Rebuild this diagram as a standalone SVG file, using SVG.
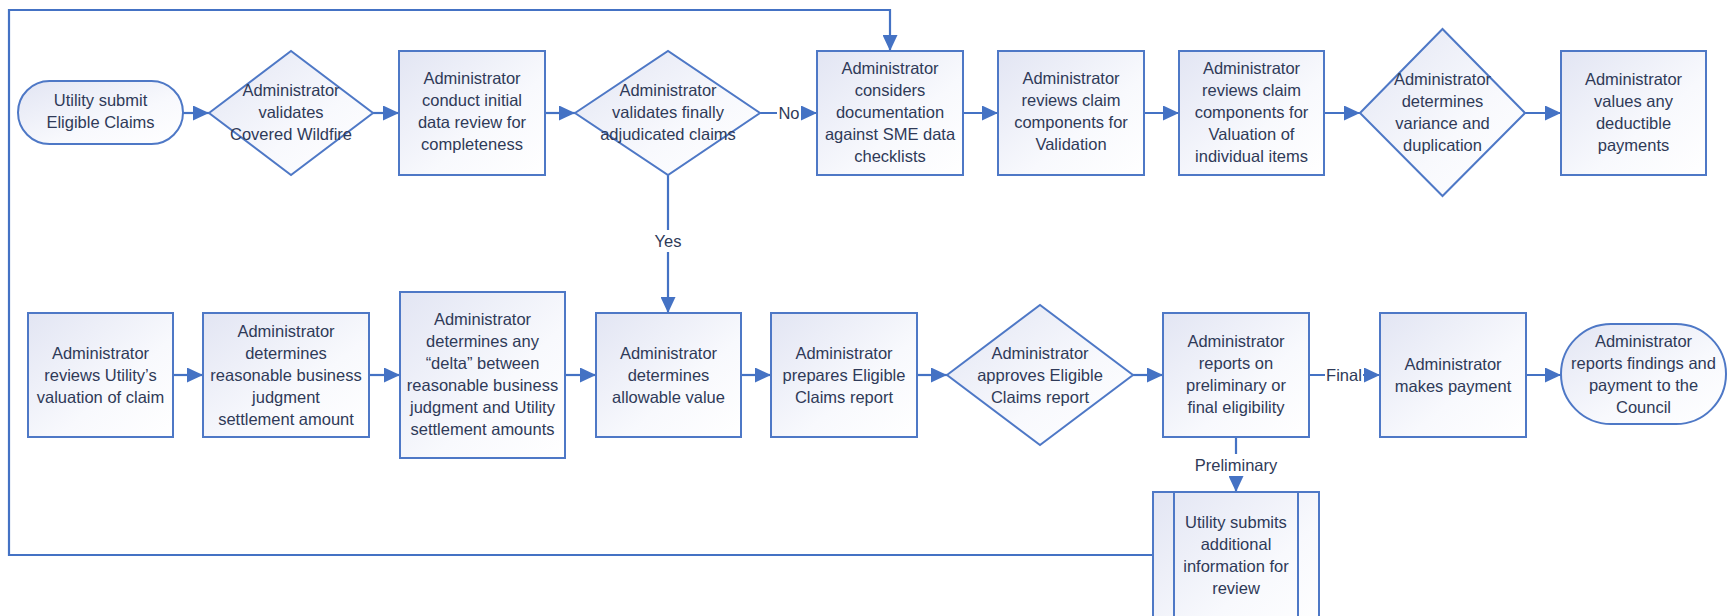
<svg xmlns="http://www.w3.org/2000/svg" width="1732" height="616" viewBox="0 0 1732 616">
<defs>
<linearGradient id="g" x1="0" y1="0" x2="1" y2="1">
<stop offset="0" stop-color="#e2e5f3"/>
<stop offset="0.6" stop-color="#f8f9fd"/>
<stop offset="1" stop-color="#ffffff"/>
</linearGradient>
<marker id="ah" markerUnits="userSpaceOnUse" markerWidth="17" markerHeight="15" refX="16" refY="7.5" orient="auto">
<path d="M0,0 L16,7.5 L0,15 z" fill="#4472c4"/>
</marker>
<style>
.n{fill:url(#g);stroke:#4e78c6;stroke-width:2}
.t{font-family:"Liberation Sans",Arial,sans-serif;font-size:16.5px;fill:#2f3a58;text-anchor:middle}
.c{fill:none;stroke:#4472c4;stroke-width:2.2}
.a{marker-end:url(#ah)}
.lb{fill:#ffffff}
</style>
</defs>
<rect width="1732" height="616" fill="#ffffff"/>

<g id="connectors">
<line class="c a" x1="183" y1="113" x2="209" y2="113"/>
<line class="c a" x1="373" y1="113" x2="399" y2="113"/>
<line class="c a" x1="545" y1="113" x2="575" y2="113"/>
<line class="c a" x1="760" y1="113" x2="817" y2="113"/>
<line class="c a" x1="963" y1="113" x2="998" y2="113"/>
<line class="c a" x1="1144" y1="113" x2="1179" y2="113"/>
<line class="c a" x1="1324" y1="113" x2="1360" y2="113"/>
<line class="c a" x1="1525" y1="113" x2="1561" y2="113"/>
<line class="c a" x1="668" y1="175" x2="668" y2="313"/>
<line class="c a" x1="173" y1="375" x2="203" y2="375"/>
<line class="c a" x1="369" y1="375" x2="400" y2="375"/>
<line class="c a" x1="565" y1="375" x2="596" y2="375"/>
<line class="c a" x1="741" y1="375" x2="771" y2="375"/>
<line class="c a" x1="917" y1="375" x2="947" y2="375"/>
<line class="c a" x1="1133" y1="375" x2="1163" y2="375"/>
<line class="c a" x1="1309" y1="375" x2="1380" y2="375"/>
<line class="c a" x1="1526" y1="375" x2="1561" y2="375"/>
<line class="c a" x1="1236" y1="437" x2="1236" y2="492"/>
<polyline class="c a" points="1153,555 9,555 9,10 890,10 890,51"/>
<rect class="lb" x="777" y="102" width="24" height="22"/>
<text class="t" x="789" y="119">No</text>
<rect class="lb" x="652" y="230" width="32" height="22"/>
<text class="t" x="668" y="247">Yes</text>
<rect class="lb" x="1325" y="364" width="38" height="22"/>
<text class="t" x="1344" y="381">Final</text>
<rect class="lb" x="1195" y="454" width="82" height="22"/>
<text class="t" x="1236" y="471">Preliminary</text>
</g>

<g id="n1">
<rect class="n" x="18" y="81" width="165" height="63" rx="31.5"/>
<text class="t" x="100.5" y="106">Utility submit<tspan x="100.5" dy="22">Eligible Claims</tspan></text>
</g>
<g id="n2">
<polygon class="n" points="209,113 291,51 373,113 291,175"/>
<text class="t" x="291" y="96">Administrator<tspan x="291" dy="22">validates</tspan><tspan x="291" dy="22">Covered Wildfire</tspan></text>
</g>
<g id="n3">
<rect class="n" x="399" y="51" width="146" height="124"/>
<text class="t" x="472" y="84">Administrator<tspan x="472" dy="22">conduct initial</tspan><tspan x="472" dy="22">data review for</tspan><tspan x="472" dy="22">completeness</tspan></text>
</g>
<g id="n4">
<polygon class="n" points="575,113 668,51 760,113 668,175"/>
<text class="t" x="668" y="96">Administrator<tspan x="668" dy="22">validates finally</tspan><tspan x="668" dy="22">adjudicated claims</tspan></text>
</g>
<g id="n5">
<rect class="n" x="817" y="51" width="146" height="124"/>
<text class="t" x="890" y="74">Administrator<tspan x="890" dy="22">considers</tspan><tspan x="890" dy="22">documentation</tspan><tspan x="890" dy="22">against SME data</tspan><tspan x="890" dy="22">checklists</tspan></text>
</g>
<g id="n6">
<rect class="n" x="998" y="51" width="146" height="124"/>
<text class="t" x="1071" y="84">Administrator<tspan x="1071" dy="22">reviews claim</tspan><tspan x="1071" dy="22">components for</tspan><tspan x="1071" dy="22">Validation</tspan></text>
</g>
<g id="n7">
<rect class="n" x="1179" y="51" width="145" height="124"/>
<text class="t" x="1251.5" y="74">Administrator<tspan x="1251.5" dy="22">reviews claim</tspan><tspan x="1251.5" dy="22">components for</tspan><tspan x="1251.5" dy="22">Valuation of</tspan><tspan x="1251.5" dy="22">individual items</tspan></text>
</g>
<g id="n8">
<polygon class="n" points="1360,113 1442.5,29 1525,113 1442.5,196"/>
<text class="t" x="1442.5" y="85">Administrator<tspan x="1442.5" dy="22">determines</tspan><tspan x="1442.5" dy="22">variance and</tspan><tspan x="1442.5" dy="22">duplication</tspan></text>
</g>
<g id="n9">
<rect class="n" x="1561" y="51" width="145" height="124"/>
<text class="t" x="1633.5" y="85">Administrator<tspan x="1633.5" dy="22">values any</tspan><tspan x="1633.5" dy="22">deductible</tspan><tspan x="1633.5" dy="22">payments</tspan></text>
</g>

<g id="n10">
<rect class="n" x="28" y="313" width="145" height="124"/>
<text class="t" x="100.5" y="359">Administrator<tspan x="100.5" dy="22">reviews Utility’s</tspan><tspan x="100.5" dy="22">valuation of claim</tspan></text>
</g>
<g id="n11">
<rect class="n" x="203" y="313" width="166" height="124"/>
<text class="t" x="286" y="337">Administrator<tspan x="286" dy="22">determines</tspan><tspan x="286" dy="22">reasonable business</tspan><tspan x="286" dy="22">judgment</tspan><tspan x="286" dy="22">settlement amount</tspan></text>
</g>
<g id="n12">
<rect class="n" x="400" y="292" width="165" height="166"/>
<text class="t" x="482.5" y="325">Administrator<tspan x="482.5" dy="22">determines any</tspan><tspan x="482.5" dy="22">“delta” between</tspan><tspan x="482.5" dy="22">reasonable business</tspan><tspan x="482.5" dy="22">judgment and Utility</tspan><tspan x="482.5" dy="22">settlement amounts</tspan></text>
</g>
<g id="n13">
<rect class="n" x="596" y="313" width="145" height="124"/>
<text class="t" x="668.5" y="359">Administrator<tspan x="668.5" dy="22">determines</tspan><tspan x="668.5" dy="22">allowable value</tspan></text>
</g>
<g id="n14">
<rect class="n" x="771" y="313" width="146" height="124"/>
<text class="t" x="844" y="359">Administrator<tspan x="844" dy="22">prepares Eligible</tspan><tspan x="844" dy="22">Claims report</tspan></text>
</g>
<g id="n15">
<polygon class="n" points="947,375 1040,305 1133,375 1040,445"/>
<text class="t" x="1040" y="359">Administrator<tspan x="1040" dy="22">approves Eligible</tspan><tspan x="1040" dy="22">Claims report</tspan></text>
</g>
<g id="n16">
<rect class="n" x="1163" y="313" width="146" height="124"/>
<text class="t" x="1236" y="347">Administrator<tspan x="1236" dy="22">reports on</tspan><tspan x="1236" dy="22">preliminary or</tspan><tspan x="1236" dy="22">final eligibility</tspan></text>
</g>
<g id="n17">
<rect class="n" x="1380" y="313" width="146" height="124"/>
<text class="t" x="1453" y="370">Administrator<tspan x="1453" dy="22">makes payment</tspan></text>
</g>
<g id="n18">
<rect class="n" x="1561" y="324" width="165" height="100" rx="50"/>
<text class="t" x="1643.5" y="347">Administrator<tspan x="1643.5" dy="22">reports findings and</tspan><tspan x="1643.5" dy="22">payment to the</tspan><tspan x="1643.5" dy="22">Council</tspan></text>
</g>
<g id="n19">
<rect class="n" x="1153" y="492" width="166" height="150"/>
<line x1="1174" y1="492" x2="1174" y2="642" stroke="#4e78c6" stroke-width="2"/>
<line x1="1298" y1="492" x2="1298" y2="642" stroke="#4e78c6" stroke-width="2"/>
<text class="t" x="1236" y="528">Utility submits<tspan x="1236" dy="22">additional</tspan><tspan x="1236" dy="22">information for</tspan><tspan x="1236" dy="22">review</tspan></text>
</g>
</svg>
